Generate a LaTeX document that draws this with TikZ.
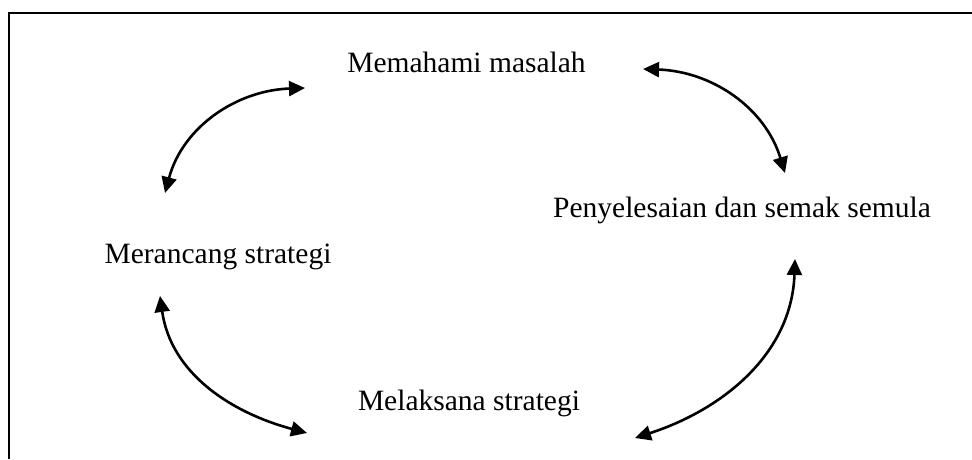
\documentclass[tikz,border=0pt]{standalone}
\usepackage{fontspec}
\setmainfont{Liberation Serif}
\usetikzlibrary{arrows.meta, positioning}

\tikzset{
  steptext/.style={font=\fontsize{29.5}{35}\selectfont, inner sep=0pt, anchor=base},
  cyclearrow/.style={line width=2.6pt, {Triangle[length=16pt,width=15pt]}-{Triangle[length=16pt,width=15pt]}}
}

\begin{document}
\begin{tikzpicture}[x=1pt, y=1pt]
                    \useasboundingbox (0, 0) rectangle (972, 459);

                    \draw[line width=2.5pt] (9, 0) -- (9, 446) -- (972, 446);

                    \node[steptext] (faham) at (466.5, 386) {Memahami masalah};
                    \node[steptext] (semak) at (742, 242) {Penyelesaian dan semak semula};
                    \node[steptext] (rancang) at (218, 196) {Merancang strategi};
                    \node[steptext] (laksana) at (469, 49) {Melaksana strategi};

                    \coordinate (a1) at (305, 371);
                    \coordinate (a2) at (165, 266);
                    \coordinate (b1) at (643, 390);
                    \coordinate (b2) at (785, 286);
                    \coordinate (c1) at (160, 163);
                    \coordinate (c2) at (307, 26);
                    \coordinate (d1) at (795, 200);
                    \coordinate (d2) at (635, 21);

                    \draw[cyclearrow] (a1) to[out=182, in=75] (a2);
                    \draw[cyclearrow] (b1) to[out=-2, in=107] (b2);
                    \draw[cyclearrow] (c1) to[out=-82, in=165] (c2);
                    \draw[cyclearrow] (d1) to[out=-92, in=18] (d2);
                \end{tikzpicture}
\end{document}
